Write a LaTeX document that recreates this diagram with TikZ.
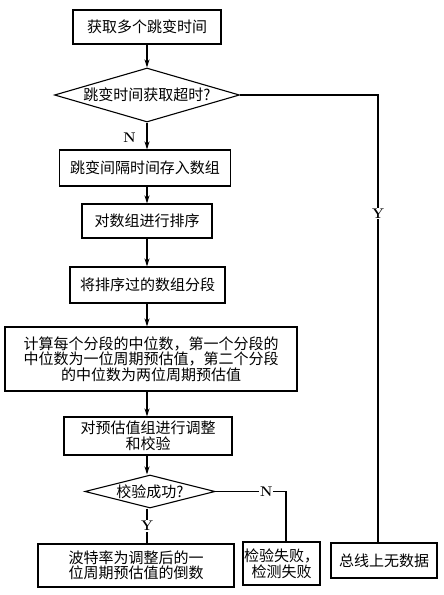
\documentclass[tikz,border=0pt]{standalone}
\usepackage{fontspec}
\newfontfamily\cjk{Noto Sans CJK SC}
\usetikzlibrary{shapes.geometric,arrows.meta}
\begin{document}
\begin{tikzpicture}[x=1pt,y=-1pt,
  every node/.style={font=\cjk\fontsize{15}{15.5}\selectfont, inner sep=0pt},
  box/.style={draw, line width=1.1pt, align=center},
  dec/.style={draw, line width=1.1pt, diamond, shape aspect=3.4},
  conn/.style={line width=1.1pt},
  arr/.style={conn, -{Stealth[length=8pt,width=5pt]}},
  lab/.style={font=\bfseries\fontsize{14}{14}\selectfont, fill=white, inner sep=1pt}]
\useasboundingbox (0,0) rectangle (444,595);
\node[box, minimum width=148pt, minimum height=34pt] (b1) at (147,27) {获取多个跳变时间};
\node[dec, minimum width=185pt, minimum height=54pt] (d1) at (147,95) {跳变时间获取超时?};
\node[box, minimum width=171pt, minimum height=36pt] (b3) at (145,168) {跳变间隔时间存入数组};
\node[box, minimum width=130pt, minimum height=34pt] (b4) at (147,221) {对数组进行排序};
\node[box, minimum width=155pt, minimum height=36pt] (b5) at (147.5,285) {将排序过的数组分段};
\node[box, minimum width=292pt, minimum height=64pt] (b6) at (151,359) {计算每个分段的中位数，第一个分段的\\中位数为一位周期预估值，第二个分段\\的中位数为两位周期预估值};
\node[box, minimum width=168pt, minimum height=38pt] (b7) at (148,436) {对预估值组进行调整\\和校验};
\node[dec, shape aspect=3.9, minimum width=130pt, minimum height=33pt] (d2) at (150,491.5) {校验成功?};
\node[box, minimum width=196pt, minimum height=43pt] (b8) at (136,565.5) {波特率为调整后的一\\位周期预估值的倒数};
\node[box, minimum width=77pt, minimum height=43pt] (b9) at (281.5,563.5) {检验失败，\\检测失败};
\node[box, minimum width=106pt, minimum height=35pt] (b10) at (384,560.5) {总线上无数据};
\coordinate (c) at (147,0);
\coordinate (r) at (378,95);
\coordinate (n2) at (286,491.5);
\draw[arr] (c |- b1.south) -- (c |- d1.north);
\draw[arr] (c |- d1.south) -- (c |- b3.north);
\draw[arr] (c |- b3.south) -- (c |- b4.north);
\draw[arr] (c |- b4.south) -- (c |- b5.north);
\draw[arr] (c |- b5.south) -- (c |- b6.north);
\draw[arr] (c |- b6.south) -- (c |- b7.north);
\draw[arr] (c |- b7.south) -- (c |- d2.north);
\draw[conn] (c |- d2.south) -- node[lab] {Y} (c |- b8.north);
\draw[conn] (d2.east) -- node[lab, pos=0.72] {N} (n2) -- (n2 |- b9.north);
\draw[conn] (d1.east) -- (r) -- node[lab, pos=0.265] {Y} (r |- b10.north);
\node[lab, anchor=east] (nl) at (137,138) {N};
\end{tikzpicture}
\end{document}
